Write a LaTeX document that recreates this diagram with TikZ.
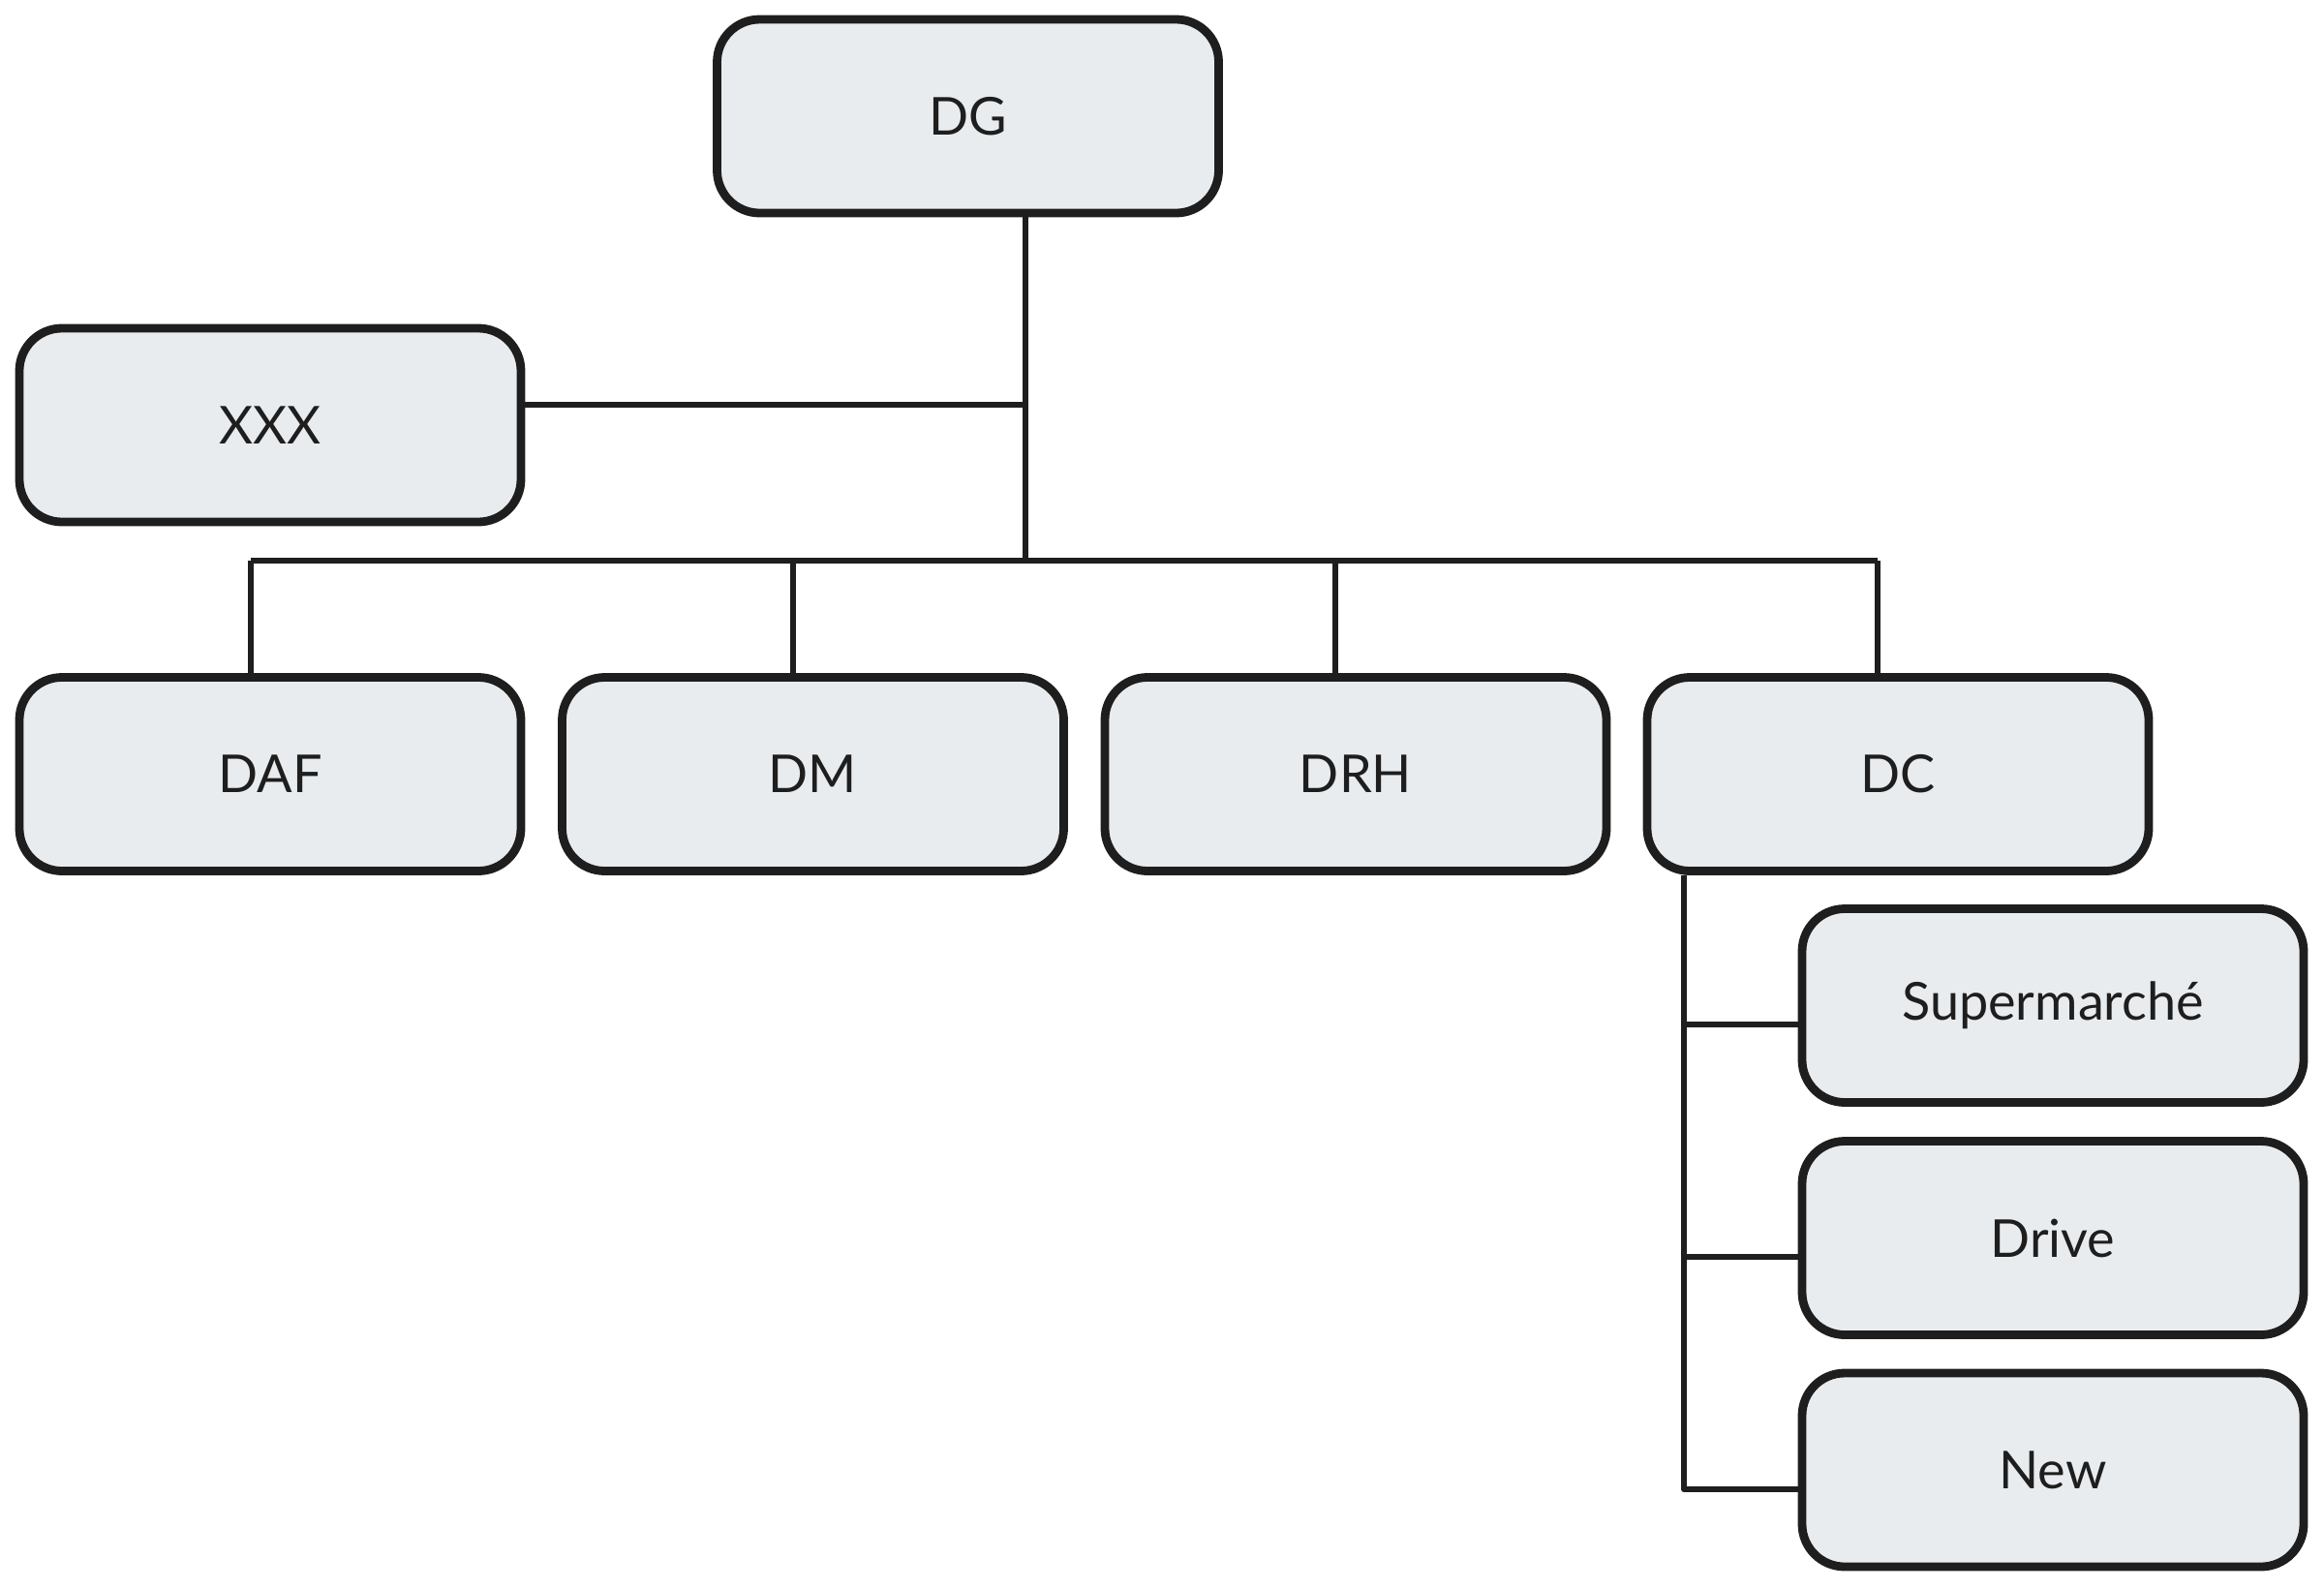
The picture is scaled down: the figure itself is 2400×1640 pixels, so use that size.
\documentclass[tikz,border=0pt]{standalone}
\usepackage{fontspec}
\setmainfont{Lato}
\begin{document}
\begin{tikzpicture}[x=0.25pt, y=-0.25pt,
  unit/.style={draw=ink, fill=boxfill, line width=2.2pt, rounded corners=11pt,
    minimum width=129.5pt, minimum height=50pt, inner sep=0pt,
    font=\fontsize{13.5}{15}\selectfont, text=ink},
  link/.style={draw=ink, line width=1.5pt, line join=round}]
\definecolor{ink}{HTML}{1E1E1E}
\definecolor{boxfill}{HTML}{E9ECEF}
\useasboundingbox (0,0) rectangle (2400,1640);

% units of the organisation
\node[unit] (DG)    at (999.5,120)   {DG};
\node[unit] (XXX)   at (279,439)     {XXX};
\node[unit] (DAF)   at (279,799.5)   {DAF};
\node[unit] (DM)    at (839.5,799.5) {DM};
\node[unit] (DRH)   at (1400,799.5)  {DRH};
\node[unit] (DC)    at (1960,799.5)  {DC};
\node[unit] (SUP)   at (2120,1038.5) {Supermarché};
\node[unit] (DRIVE) at (2120,1278.5) {Drive};
\node[unit] (NEW)   at (2120,1518)   {New};

% junction points of the connector tree
\coordinate (trunk)  at (1059,418);
\coordinate (bus)    at (1059,579);
\coordinate (busL)   at (259,579);
\coordinate (busR)   at (1939,579);
\coordinate (dDM)    at (819,579);
\coordinate (dDRH)   at (1379,579);
\coordinate (spine)  at (1739,1538);
\coordinate (tSUP)   at (1739,1058);
\coordinate (tDRIVE) at (1739,1298);

% main hierarchy
\draw[link] (DG.south -| trunk) -- (bus);
\draw[link] (XXX.east |- trunk) -- (trunk);
\draw[link] (busL) -- (busR);
\draw[link] (busL) -- (busL |- DAF.north);
\draw[link] (dDM) -- (dDM |- DM.north);
\draw[link] (dDRH) -- (dDRH |- DRH.north);
\draw[link] (busR) -- (busR |- DC.north);

% branches under DC
\draw[link] (spine |- DC.south) -- (spine) -- (spine -| NEW.west);
\draw[link] (tSUP) -- (tSUP -| SUP.west);
\draw[link] (tDRIVE) -- (tDRIVE -| DRIVE.west);
\end{tikzpicture}
\end{document}
